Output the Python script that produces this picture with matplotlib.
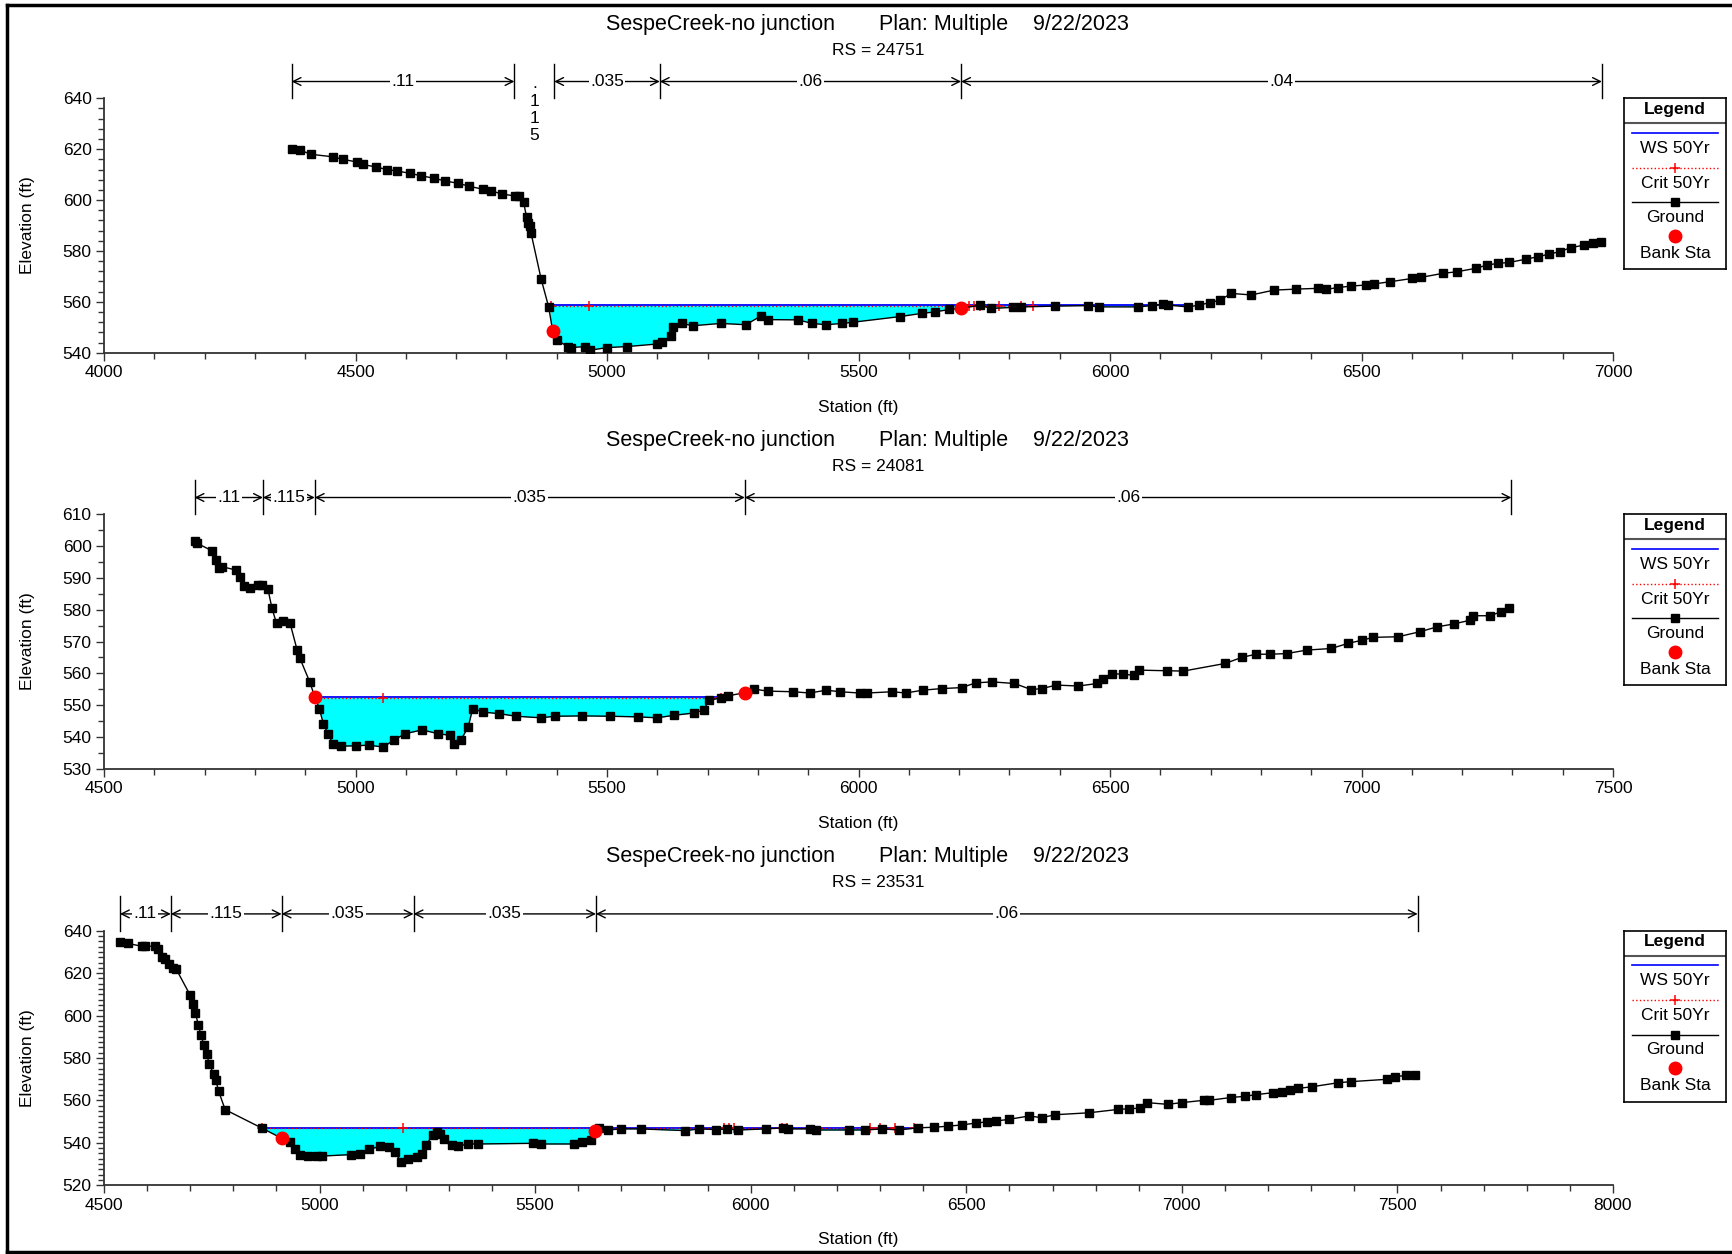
import numpy as np
import matplotlib
matplotlib.use('Agg')
import matplotlib.pyplot as plt
from matplotlib import transforms
from matplotlib.ticker import MultipleLocator

plt.rcParams['font.family'] = ['Liberation Sans', 'DejaVu Sans']

W, H = 1732, 1254

title_left = 'SespeCreek-no junction'
title_plan = 'Plan: Multiple'
title_date = '9/22/2023'

# ---- RS 24751 ----
sta1 = [4374, 4389, 4411, 4455, 4475, 4502, 4515, 4540, 4563, 4583, 4609, 4631, 4656, 4678,
        4704, 4725, 4754, 4770, 4791, 4817, 4825, 4834, 4840, 4843, 4846, 4849, 4869, 4884,
        4892, 4900, 4922, 4928, 4956, 4967, 5000, 5039, 5099, 5110, 5127, 5132, 5149, 5171,
        5226, 5276, 5306, 5320, 5380, 5408, 5436, 5468, 5490, 5583, 5627, 5652, 5680, 5704,
        5741, 5763, 5807, 5823, 5890, 5956, 5978, 6055, 6083, 6105, 6116, 6155, 6177, 6199,
        6219, 6241, 6281, 6326, 6370, 6414, 6430, 6453, 6480, 6508, 6524, 6557, 6601, 6618,
        6662, 6689, 6728, 6750, 6772, 6794, 6828, 6850, 6872, 6894, 6916, 6943, 6960, 6976]
elev1 = [620, 619.7, 618, 617, 616, 615, 614, 613, 612, 611.4, 610.5, 609.5, 608.6, 607.5,
         606.6, 605.5, 604.2, 603.6, 602.4, 601.6, 601.7, 599.2, 593.5, 591, 590, 587, 569, 558,
         548.6, 545, 542.4, 542, 542.4, 541, 542, 542.4, 543.4, 544.3, 546.6, 550, 551.5, 550.6,
         551.5, 551, 554.4, 553, 552.9, 551.5, 551, 551.5, 552, 554.2, 555.5, 556, 557, 557.4,
         558.7, 557.4, 557.8, 558, 558.3, 558.5, 558, 558, 558.5, 559, 558.7, 558, 558.7, 559.7,
         560.7, 563.3, 562.7, 564.6, 565, 565.3, 564.9, 565.6, 566.2, 566.6, 567, 567.9, 569.2, 569.6,
         571.2, 571.8, 573.2, 574.5, 575.1, 575.5, 576.8, 577.7, 578.7, 579.7, 581.3, 582.3, 583.2, 583.6]
bank1_sta = [4892, 5704]
bank1_elev = [548.6, 557.6]
ws1 = 558.6
ws1_range = [4888, 6160]
crit1 = 558.3
crit1_sta = [4888, 4965, 5719, 5730, 5741, 5780, 5824, 5846]
n1_sta = [4373, 4816, 4895, 5105, 5704, 6978]
n1_val = ['.11', '.115', '.035', '.06', '.04']

# ---- RS 24081 ----
sta2 = [4680, 4685, 4715, 4722, 4729, 4735, 4762, 4770, 4779, 4790, 4806, 4814, 4826, 4834,
        4843, 4856, 4870, 4884, 4889, 4909, 4919, 4928, 4936, 4945, 4955, 4972, 5000, 5027,
        5055, 5077, 5099, 5132, 5165, 5187, 5196, 5209, 5224, 5233, 5253, 5286, 5319, 5369,
        5396, 5451, 5506, 5562, 5600, 5633, 5672, 5692, 5703, 5727, 5740, 5774, 5793, 5820,
        5870, 5903, 5936, 5963, 6002, 6017, 6067, 6094, 6128, 6166, 6205, 6233, 6266, 6310,
        6343, 6365, 6393, 6437, 6475, 6486, 6503, 6525, 6547, 6558, 6613, 6646, 6729, 6762,
        6790, 6818, 6851, 6891, 6940, 6973, 7001, 7023, 7073, 7117, 7150, 7183, 7216, 7222,
        7255, 7277, 7294]
elev2 = [601.6, 600.9, 598.5, 595.6, 593, 593.5, 592.5, 590.4, 587.4, 586.7, 587.7, 587.7, 586.4, 580.4,
         575.7, 576.4, 575.7, 567.3, 564.9, 557.3, 552.6, 548.9, 544.2, 541, 537.9, 537.1, 537.2, 537.4,
         536.8, 539.1, 541, 542.2, 541, 540.5, 537.7, 538.9, 543.1, 548.9, 547.8, 547.3, 546.5, 546,
         546.5, 546.6, 546.5, 546.3, 546, 546.8, 547.5, 548.4, 551.5, 552.3, 552.9, 553.9, 555, 554.4,
         554.2, 553.8, 554.7, 554.2, 553.8, 553.8, 554.2, 553.8, 554.7, 555.2, 555.5, 557, 557.3, 556.8,
         554.9, 555.2, 556.3, 556, 556.8, 558.3, 559.9, 559.7, 559.4, 561, 560.8, 560.7, 563.1, 565,
         566, 566, 566.2, 567.3, 567.8, 569.4, 570.4, 571.3, 571.5, 573.1, 574.6, 575.5, 576.7, 578.1,
         578.1, 579.3, 580.4]
bank2_sta = [4919, 5774]
bank2_elev = [552.6, 553.9]
ws2 = 552.4
ws2_range = [4919, 5727]
crit2 = 552.3
crit2_sta = [4922, 5055, 5727]
n2_sta = [4680, 4816, 4919, 5774, 7298]
n2_val = ['.11', '.115', '.035', '.06']

# ---- RS 23531 ----
sta3 = [4536, 4555, 4587, 4596, 4619, 4626, 4635, 4642, 4651, 4660, 4668, 4699, 4707, 4712,
        4719, 4725, 4732, 4738, 4744, 4754, 4759, 4766, 4781, 4867, 4912, 4932, 4942, 4955,
        4974, 4993, 5006, 5074, 5093, 5115, 5141, 5160, 5175, 5188, 5205, 5227, 5237, 5247,
        5263, 5273, 5280, 5289, 5308, 5321, 5344, 5368, 5494, 5514, 5591, 5608, 5630, 5639,
        5649, 5668, 5700, 5745, 5848, 5880, 5919, 5945, 5971, 6035, 6074, 6087, 6138, 6151,
        6229, 6266, 6305, 6343, 6387, 6426, 6458, 6491, 6523, 6549, 6568, 6598, 6646, 6675,
        6706, 6784, 6852, 6877, 6903, 6919, 6967, 7000, 7051, 7064, 7113, 7147, 7173, 7212,
        7232, 7251, 7270, 7302, 7363, 7392, 7475, 7495, 7520, 7540]
elev3 = [634.5, 634, 632.7, 632.7, 632.7, 631.2, 627.7, 626.6, 624.2, 622.2, 621.7, 609.9, 605.6, 601.2,
         595.4, 590.6, 585.9, 582, 577.2, 572.5, 569.7, 564.2, 555.6, 546.8, 542.1, 540.2, 537, 534.4,
         533.7, 533.6, 533.7, 534.4, 534.7, 536.9, 538.3, 538.1, 535.8, 531, 532.3, 533.1, 534.7, 538.9,
         543.8, 545.2, 544.1, 541.8, 538.9, 538.3, 539.4, 539.4, 539.7, 539.4, 539.4, 540.2, 541.3, 545.7,
         547, 546, 546.5, 546.5, 545.7, 546.5, 546.2, 546.5, 546, 546.5, 547, 546.5, 546.5, 546,
         546, 546, 546.5, 546, 547, 547.3, 547.8, 548.4, 549.3, 549.8, 550.2, 551, 552.6, 551.8,
         553.2, 554.1, 555.7, 556, 556.3, 558.9, 558.1, 558.9, 560, 560, 561.3, 561.9, 562.7, 563.6,
         564, 564.8, 565.6, 566.4, 568.3, 568.8, 569.9, 571.2, 571.7, 572]
bank3_sta = [4912, 5639]
bank3_elev = [542.1, 545.7]
ws3 = 547.0
ws3_range = [4867, 6380]
crit3 = 546.9
crit3_sta = [4867, 5193, 5938, 5950, 5962, 6072, 6085, 6276, 6300, 6334, 6379]
n3_sta = [4537, 4655, 4912, 5218, 5641, 7547]
n3_val = ['.11', '.115', '.035', '.035', '.06']

panels = [
    dict(rs='24751', sta=sta1, elev=elev1, bsta=bank1_sta, belev=bank1_elev, ws=ws1, wsr=ws1_range,
         crit=crit1, csta=crit1_sta, nsta=n1_sta, nval=n1_val, xlim=(4000, 7000), ylim=(540, 640),
         xmaj=500, ymaj=20, ymin=4, top=98.3),
    dict(rs='24081', sta=sta2, elev=elev2, bsta=bank2_sta, belev=bank2_elev, ws=ws2, wsr=ws2_range,
         crit=crit2, csta=crit2_sta, nsta=n2_sta, nval=n2_val, xlim=(4500, 7500), ylim=(530, 610),
         xmaj=500, ymaj=10, ymin=5, top=514.3),
    dict(rs='23531', sta=sta3, elev=elev3, bsta=bank3_sta, belev=bank3_elev, ws=ws3, wsr=ws3_range,
         crit=crit3, csta=crit3_sta, nsta=n3_sta, nval=n3_val, xlim=(4500, 8000), ylim=(520, 640),
         xmaj=500, ymaj=20, ymin=2.5, top=930.7),
]

fig = plt.figure(figsize=(W / 100, H / 100), dpi=100)


def fx(px):
    return px / W


def fy(py):
    return 1 - py / H


axis_col = '#333333'
ax_left, ax_right, ax_h = 104, 1613, 254.4

for p in panels:
    top = p['top']
    ax = fig.add_axes([fx(ax_left), fy(top + ax_h), fx(ax_right - ax_left), ax_h / H])
    sta = np.array(p['sta'], dtype=float)
    elev = np.array(p['elev'], dtype=float)

    # water fill
    xs = np.linspace(p['wsr'][0], p['wsr'][1], 1500)
    g = np.interp(xs, sta, elev)
    ax.fill_between(xs, g, p['ws'], where=g < p['ws'], color='#00FFFF', lw=0, zorder=1)
    ax.plot(p['wsr'], [p['ws'], p['ws']], color='blue', lw=1.3, zorder=2)
    ax.plot([p['csta'][0], p['csta'][-1]], [p['crit'], p['crit']], color='red', lw=1, ls=':', zorder=3)
    ax.plot(p['csta'], [p['crit']] * len(p['csta']), ls='none', marker='+', color='red',
            ms=7, mew=1.1, zorder=3)
    ax.plot(sta, elev, color='black', lw=1, marker='s', ms=6.3, zorder=4)
    ax.plot(p['bsta'], p['belev'], ls='none', marker='o', color='red', ms=9, zorder=5)

    ax.set_xlim(*p['xlim'])
    ax.set_ylim(*p['ylim'])
    ax.xaxis.set_major_locator(MultipleLocator(p['xmaj']))
    ax.xaxis.set_minor_locator(MultipleLocator(100))
    ax.yaxis.set_major_locator(MultipleLocator(p['ymaj']))
    ax.yaxis.set_minor_locator(MultipleLocator(p['ymin']))
    for s in ['top', 'right']:
        ax.spines[s].set_visible(False)
    for s in ['left', 'bottom']:
        ax.spines[s].set_color(axis_col)
        ax.spines[s].set_linewidth(1.3)
    ax.tick_params(which='major', direction='out', length=6, width=1, color=axis_col,
                   labelsize=12.5, pad=3)
    ax.tick_params(which='minor', direction='out', length=4, width=1, color=axis_col)

    ax.set_xlabel('Station (ft)', fontsize=12.5, labelpad=14)
    ax.set_ylabel('Elevation (ft)', fontsize=12.5, labelpad=20)

    # titles
    fig.text(fx(606), fy(top - 74), title_left, fontsize=15.5, va='center', ha='left')
    fig.text(fx(879), fy(top - 74), title_plan, fontsize=15.5, va='center', ha='left')
    fig.text(fx(1033), fy(top - 74), title_date, fontsize=15.5, va='center', ha='left')
    fig.text(fx(878), fy(top - 48), 'RS = ' + p['rs'], fontsize=12.5, va='center', ha='center')

    # manning's n bars
    tr = transforms.blended_transform_factory(ax.transData, ax.transAxes)
    yl = 1.066
    for x in p['nsta']:
        ax.plot([x, x], [1.0, 1.135], color='black', lw=1, transform=tr, clip_on=False)
    for i, val in enumerate(p['nval']):
        x0, x1 = p['nsta'][i], p['nsta'][i + 1]
        xm = (x0 + x1) / 2
        if x1 - x0 < 100 and p['rs'] == '24751':
            ax.text(xm, yl + 0.02, '.\n1\n1\n5', transform=tr, ha='center', va='top',
                    fontsize=12.5, linespacing=1.18)
            continue
        ax.annotate('', xy=(x1, yl), xytext=(x0, yl), xycoords=tr, textcoords=tr,
                    arrowprops=dict(arrowstyle='<->', lw=1, color='black',
                                    shrinkA=0, shrinkB=0, mutation_scale=14),
                    annotation_clip=False)
        ax.text(xm, yl, val, transform=tr, ha='center', va='center', fontsize=12.5,
                bbox=dict(facecolor='white', edgecolor='none', pad=1.0))

    # legend box
    lg = fig.add_axes([fx(1624), fy(top + 171), fx(102), 171 / H])
    lg.set_xlim(0, 102)
    lg.set_ylim(171, 0)
    lg.set_xticks([])
    lg.set_yticks([])
    for s in lg.spines.values():
        s.set_color('black')
        s.set_linewidth(1.2)
    lg.text(51, 11, 'Legend', ha='center', va='center', fontsize=12.5, fontweight='bold')
    lg.plot([0, 102], [25, 25], color='#555555', lw=1.5)
    lg.plot([8, 94], [34.5, 34.5], color='blue', lw=1.2)
    lg.text(51, 50, 'WS 50Yr', ha='center', va='center', fontsize=12.5)
    lg.plot([8, 94], [69.5, 69.5], color='red', lw=1, ls=':')
    lg.plot([51], [69.5], marker='+', color='red', ms=7, mew=1.1)
    lg.text(51, 85, 'Crit 50Yr', ha='center', va='center', fontsize=12.5)
    lg.plot([8, 94], [104, 104], color='black', lw=1)
    lg.plot([51], [104], marker='s', color='black', ms=5.5)
    lg.text(51, 119, 'Ground', ha='center', va='center', fontsize=12.5)
    lg.plot([51], [137.5], marker='o', color='red', ms=9)
    lg.text(51, 155, 'Bank Sta', ha='center', va='center', fontsize=12.5)

# outer frame (left, top, bottom)
fig.add_artist(plt.Line2D([fx(7), fx(7)], [fy(5), fy(1252)], color='black', lw=2.5))
fig.add_artist(plt.Line2D([fx(7), fx(1732)], [fy(5), fy(5)], color='black', lw=2.5))
fig.add_artist(plt.Line2D([fx(7), fx(1732)], [fy(1252), fy(1252)], color='black', lw=2.5))

fig.savefig('out.png', dpi=100)
